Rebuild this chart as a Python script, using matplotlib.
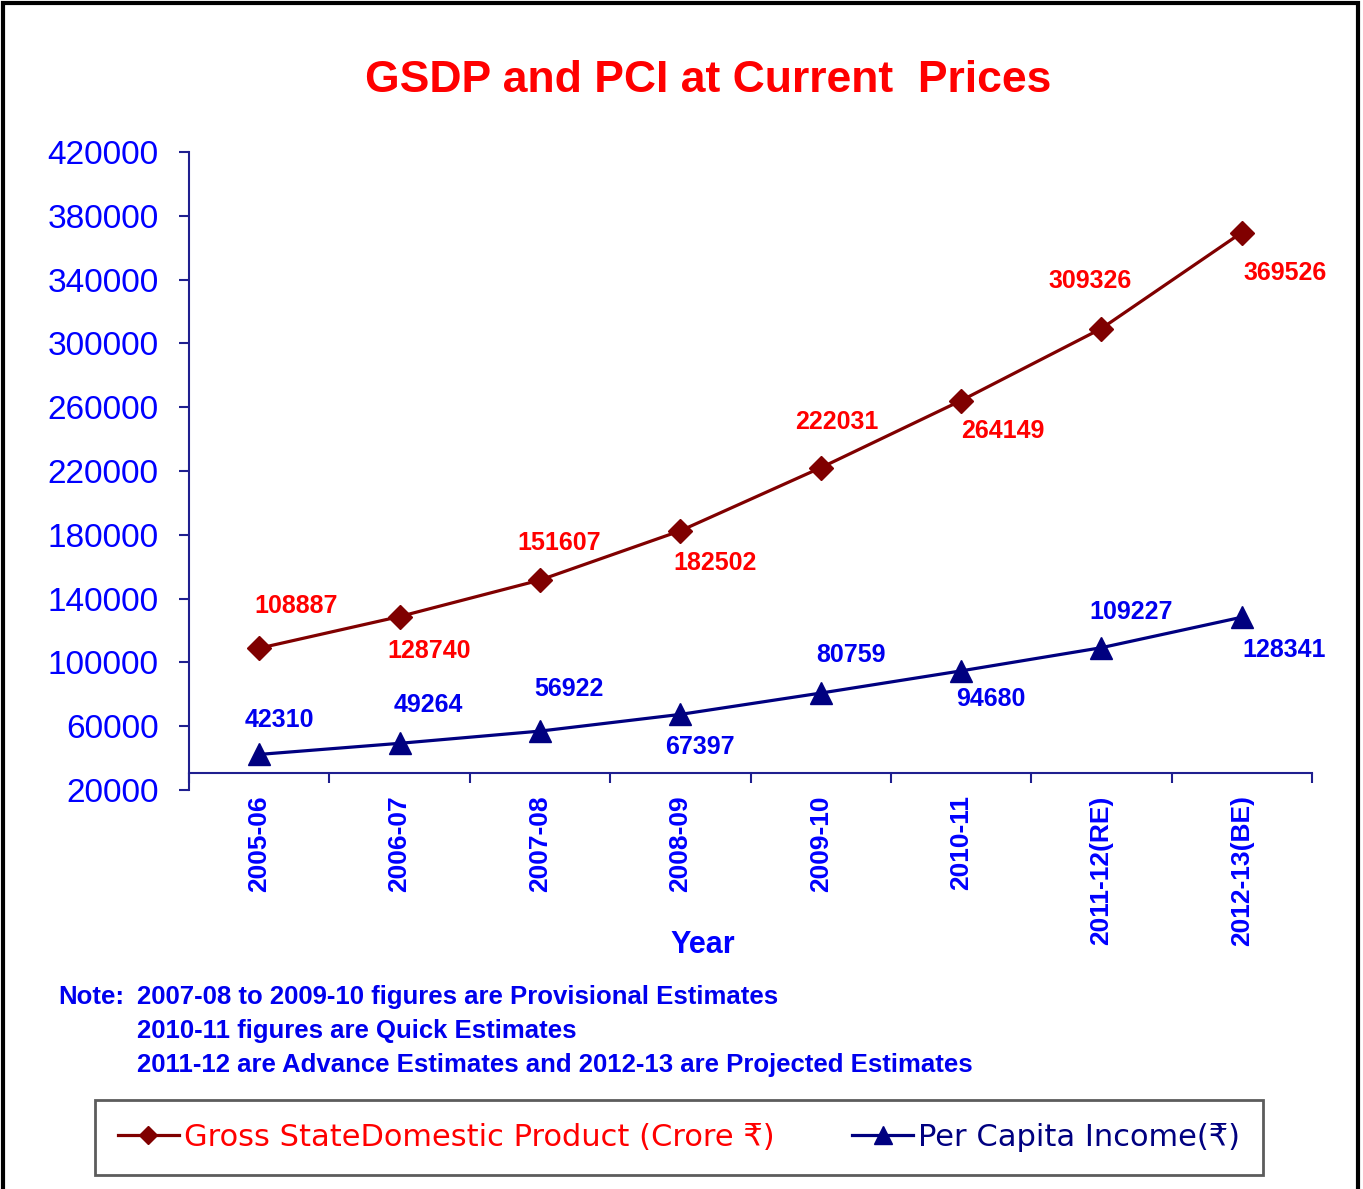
import numpy as np
import matplotlib.pyplot as plt
from matplotlib.patches import Rectangle

plt.rcParams['font.family'] = ['Liberation Sans', 'DejaVu Sans']

years = ["2005-06", "2006-07", "2007-08", "2008-09", "2009-10",
         "2010-11", "2011-12(RE)", "2012-13(BE)"]
gsdp = [108887, 128740, 151607, 182502, 222031, 264149, 309326, 369526]
pci = [42310, 49264, 56922, 67397, 80759, 94680, 109227, 128341]

# where each value label sits, in pixels from its point (dx, dy)
gsdp_off = [(37, 42), (30, -34), (19, 37), (35, -32), (16, 46), (42, -30), (-11, 48), (43, -40)]
pci_off = [(20, 34), (29, 38), (29, 42), (20, -33), (30, 38), (30, -28), (30, 36), (42, -33)]

fig = plt.figure(figsize=(13.63, 11.89), dpi=100)
ax = fig.add_axes([189 / 1363, 1 - 790 / 1189, 1123 / 1363, 638 / 1189])

x = np.arange(len(years))
ax.plot(x, gsdp, color='#800000', lw=2.3, marker='D', markersize=12,
        label='Gross StateDomestic Product (Crore \u20b9)')
ax.plot(x, pci, color='#000080', lw=2.3, marker='^', markersize=16,
        label='Per Capita Income(\u20b9)')

for i, v in enumerate(gsdp):
    ax.annotate(str(v), (x[i], v), xytext=gsdp_off[i], textcoords='offset pixels',
                ha='center', va='center', color='#FF0000', fontsize=18, fontweight='bold')
for i, v in enumerate(pci):
    ax.annotate(str(v), (x[i], v), xytext=pci_off[i], textcoords='offset pixels',
                ha='center', va='center', color='#0000EE', fontsize=18, fontweight='bold')

ax.set_xlim(-0.5, 7.5)
ax.set_ylim(20000, 420000)
ax.set_yticks(np.arange(20000, 420001, 40000))
ax.set_xticks(x)
ax.set_xticklabels(years)
ax.set_xticks(np.arange(-0.5, 8, 1), minor=True)

for s in ['top', 'right']:
    ax.spines[s].set_visible(False)
ax.spines['bottom'].set_position(('data', 30700))
for s in ['left', 'bottom']:
    ax.spines[s].set_color('#1F1F8F')
    ax.spines[s].set_linewidth(1.5)

ax.tick_params(axis='y', direction='out', length=7, width=1.5, color='#1F1F8F',
               labelcolor='#0000FF', labelsize=24, pad=15)
ax.tick_params(axis='x', which='major', length=0, labelcolor='#0000FF',
               labelsize=19, pad=16, labelrotation=90)
ax.tick_params(axis='x', which='minor', direction='out', length=7, width=1.5,
               color='#1F1F8F')
for t in ax.get_xticklabels():
    t.set_fontweight('bold')
    t.set_va('top')
    t.set_ha('center')

fig.text(708 / 1363, 1 - 80 / 1189, 'GSDP and PCI at Current  Prices',
         ha='center', va='center', color='#FF0000', fontsize=32, fontweight='bold')
fig.text(703 / 1363, 1 - 945 / 1189, 'Year', ha='center', va='center',
         color='#0000FF', fontsize=22, fontweight='bold')

note_font = ['Liberation Sans Narrow', 'Liberation Sans']
fig.text(58 / 1363, 1 - 997 / 1189, 'Note:', ha='left', va='center',
         color='#0000EE', fontsize=18.5, fontweight='bold', family=note_font)
notes = ["2007-08 to 2009-10 figures are Provisional Estimates",
         "2010-11 figures are Quick Estimates",
         "2011-12 are Advance Estimates and 2012-13 are Projected Estimates"]
for k, line in enumerate(notes):
    fig.text(137 / 1363, 1 - (997 + 34 * k) / 1189, line, ha='left', va='center',
             color='#0000EE', fontsize=18.5, fontweight='bold', family=note_font)

leg = fig.legend(loc='center', ncol=2, mode='expand',
                 bbox_to_anchor=(95 / 1363, 1 - 1176 / 1189, 1168 / 1363, 77 / 1189),
                 prop={'family': 'DejaVu Sans', 'size': 22}, handlelength=2.0,
                 markerscale=0.8, frameon=True, fancybox=False, borderpad=0.75,
                 handletextpad=0.15, borderaxespad=0)
leg.get_frame().set_edgecolor('#333333')
leg.get_frame().set_linewidth(2)
leg.get_texts()[0].set_color('#FF0000')
leg.get_texts()[1].set_color('#000080')

fig.patches.append(Rectangle((3 / 1363, -0.01), 1355 / 1363, 1.01 - 3 / 1189,
                             transform=fig.transFigure, fill=False,
                             edgecolor='black', linewidth=3))

fig.savefig('out.png', dpi=100)
